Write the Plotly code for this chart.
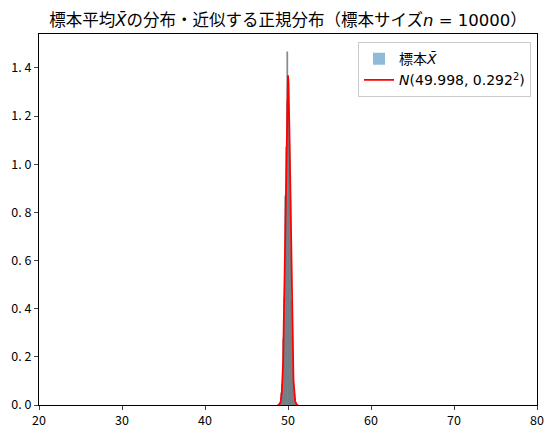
import numpy as np
import plotly.graph_objects as go

# Histogram of sample means (density)
bin_centers = [48.84, 48.92, 49.00, 49.08, 49.16, 49.24, 49.32, 49.40, 49.48, 49.56,
               49.64, 49.72, 49.80, 49.88, 49.96, 50.04, 50.12, 50.20, 50.28, 50.36,
               50.44, 50.52, 50.60, 50.68, 50.76, 50.84, 50.92, 51.00, 51.08, 51.16]
density = [0.001, 0.002, 0.004, 0.010, 0.020, 0.049, 0.088, 0.170, 0.274, 0.446,
           0.630, 0.870, 1.072, 1.262, 1.466, 1.340, 1.248, 1.091, 0.851, 0.648,
           0.431, 0.285, 0.160, 0.093, 0.044, 0.022, 0.009, 0.004, 0.0015, 0.0005]
bin_width = 0.08

# Fitted normal distribution parameters (from legend)
MU = 49.998
SIGMA = 0.292

x_ticks = [20, 30, 40, 50, 60, 70, 80]
y_ticks = [0.0, 0.2, 0.4, 0.6, 0.8, 1.0, 1.2, 1.4]
y_tick_text = ["0. 0", "0. 2", "0. 4", "0. 6", "0. 8", "1. 0", "1. 2", "1. 4"]

xs = np.linspace(MU - 4.2 * SIGMA, MU + 4.2 * SIGMA, 300)
pdf = np.exp(-0.5 * ((xs - MU) / SIGMA) ** 2) / (SIGMA * np.sqrt(2 * np.pi))

FONT = "Noto Sans CJK JP"
MIX = "DejaVu Sans, Noto Sans CJK JP"
XBAR = '<span style="font-family:DejaVu Sans"><i>X̄</i></span>'

# page body has an 8px default margin; compensate
W, H = 545, 429
L, T, PW, PH = 31, 26, 498, 371

fig = go.Figure()
fig.add_trace(go.Bar(
    x=bin_centers, y=density, width=bin_width,
    marker=dict(color="#7b848c", line=dict(color="#6e777e", width=0.5)),
    showlegend=False, hoverinfo="skip",
))
fig.add_trace(go.Bar(
    x=[None], y=[None], name="標本" + XBAR,
    marker=dict(color="rgba(31,119,180,0.5)", line=dict(width=0)),
))
fig.add_trace(go.Scatter(
    x=xs, y=pdf, mode="lines", name="<i>N</i>(49.998, 0.292<sup>2</sup>)",
    line=dict(color="red", width=1.8),
))

fig.update_layout(
    width=W, height=H,
    margin=dict(l=L, r=W - L - PW, t=T, b=H - T - PH, autoexpand=False),
    paper_bgcolor="white", plot_bgcolor="white",
    font=dict(family=FONT, size=12, color="black"),
    title=dict(text="標本平均" + XBAR + "の分布・近似する正規分布（標本サイズ<i>n</i> = 10000）",
               x=(L + PW / 2) / W, xanchor="center", y=1 - 12 / H, yanchor="middle",
               font=dict(family=MIX, size=16.5, color="black")),
    bargap=0,
    legend=dict(x=0.988, y=0.978, xanchor="right", yanchor="top",
                bgcolor="rgba(255,255,255,0.8)", bordercolor="#cccccc", borderwidth=1,
                font=dict(family=MIX, size=14), tracegroupgap=6),
    xaxis=dict(range=[20, 80], tickvals=x_ticks, ticks="outside", ticklen=4,
               showline=True, mirror=True, linecolor="black", linewidth=1,
               showgrid=False, zeroline=False, tickfont=dict(size=12.5), automargin=False),
    yaxis=dict(range=[0, 1.541], tickvals=y_ticks, ticktext=y_tick_text,
               ticks="outside", ticklen=4,
               showline=True, mirror=True, linecolor="black", linewidth=1,
               showgrid=False, zeroline=False, tickfont=dict(size=12.5), automargin=False),
)

fig.write_html("out.html")
